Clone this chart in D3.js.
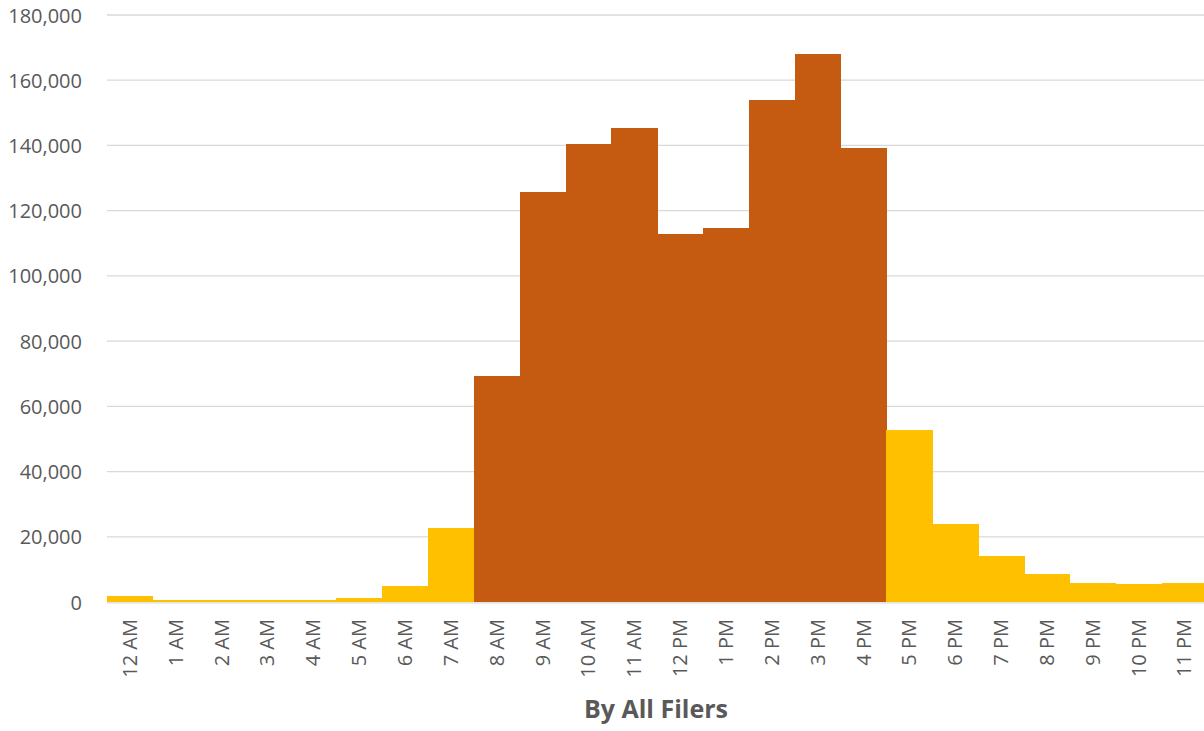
<!DOCTYPE html>
<html>
<head>
<meta charset="utf-8">
<script src="https://cdn.jsdelivr.net/npm/d3@7"></script>
<style>
  html, body { margin: 0; padding: 0; background: #fff; }
  svg { display: block; }
  text { font-family: "Open Sans", "Noto Sans", sans-serif; fill: #595959; }
</style>
</head>
<body>
<svg id="chart" width="1204" height="731"></svg>
<script>
const hours = ["12 AM","1 AM","2 AM","3 AM","4 AM","5 AM","6 AM","7 AM","8 AM","9 AM","10 AM","11 AM",
               "12 PM","1 PM","2 PM","3 PM","4 PM","5 PM","6 PM","7 PM","8 PM","9 PM","10 PM","11 PM"];
const filings = [1900, 600, 600, 600, 600, 1150, 4900, 22700, 69400, 125700, 140400, 145400,
                 112950, 114700, 153950, 168000, 139250, 52650, 23850, 14000, 8500, 5950, 5450, 5950];
const businessHours = ["8 AM","9 AM","10 AM","11 AM","12 PM","1 PM","2 PM","3 PM","4 PM"];
const yTicks = [0, 20000, 40000, 60000, 80000, 100000, 120000, 140000, 160000, 180000];
const chartTitle = "By All Filers";

(function () {
const svg = d3.select("#chart");
const mLeft = 107, mRight = 1207.4, mTop = 15, mBottom = 602;

const x = d3.scaleBand().domain(hours).range([mLeft, mRight]).paddingInner(0).paddingOuter(0);
const y = d3.scaleLinear().domain([0, 180000]).range([mBottom, mTop]);

// gridlines
svg.append("g").selectAll("line").data(yTicks.filter(d => d > 0)).join("line")
  .attr("x1", mLeft).attr("x2", 1204)
  .attr("y1", d => y(d)).attr("y2", d => y(d))
  .attr("stroke", "#D9D9D9").attr("stroke-width", 1.3);

// bars
svg.append("g").attr("shape-rendering", "crispEdges").selectAll("rect").data(hours).join("rect")
  .attr("x", d => x(d))
  .attr("width", x.bandwidth() + 0.6)
  .attr("y", (d, i) => y(filings[i]))
  .attr("height", (d, i) => y(0) - y(filings[i]))
  .attr("fill", d => businessHours.includes(d) ? "#C55A11" : "#FFC000");

// x axis line
svg.append("line").attr("x1", mLeft).attr("x2", 1204)
  .attr("y1", mBottom + 0.8).attr("y2", mBottom + 0.8)
  .attr("stroke", "#D9D9D9").attr("stroke-width", 1.3);

// y axis labels
const yAxis = d3.axisLeft(y).tickValues(yTicks).tickSize(0).tickPadding(0)
  .tickFormat(d3.format(","));
const yg = svg.append("g").attr("transform", `translate(${mLeft - 25},0)`).call(yAxis);
yg.select(".domain").remove();
yg.selectAll("text").attr("font-size", 20).attr("fill", "#595959")
  .attr("font-family", "Open Sans, sans-serif").attr("dy", "0.35em");

// x axis labels (rotated)
const xAxis = d3.axisBottom(x).tickSize(0).tickPadding(0);
const xg = svg.append("g").attr("transform", `translate(0,${mBottom})`).call(xAxis);
xg.select(".domain").remove();
xg.selectAll("text")
  .attr("font-size", 20).attr("fill", "#595959").attr("font-family", "Open Sans, sans-serif")
  .attr("text-anchor", "end")
  .attr("transform", "rotate(-90)")
  .attr("x", -17).attr("y", 0).attr("dy", "0.35em");

// title
svg.append("text").attr("x", 656).attr("y", 718)
  .attr("text-anchor", "middle").attr("font-size", 25).attr("font-weight", "bold")
  .attr("fill", "#595959").text(chartTitle);
})();
</script>
</body>
</html>
